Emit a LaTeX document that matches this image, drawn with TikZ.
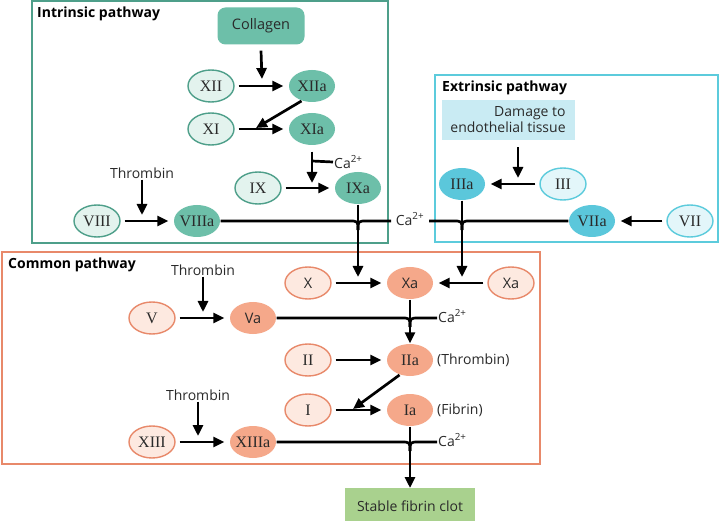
\documentclass[tikz,border=0pt]{standalone}
\usepackage{fontspec}
\setmainfont{Liberation Serif}
\setsansfont{Open Sans}
\usetikzlibrary{arrows.meta,shapes.geometric}
\definecolor{intB}{HTML}{4E9F8A}
\definecolor{intD}{HTML}{6DBFA9}
\definecolor{intL}{HTML}{E3F3EE}
\definecolor{extB}{HTML}{5CCBDC}
\definecolor{extD}{HTML}{5BC7DB}
\definecolor{extL}{HTML}{E3F6FA}
\definecolor{extF}{HTML}{C9EBF3}
\definecolor{comB}{HTML}{E8896A}
\definecolor{comD}{HTML}{F5A88A}
\definecolor{comL}{HTML}{FDE9E0}
\definecolor{clotG}{HTML}{A9D18E}
\definecolor{txt}{HTML}{2A2A2A}
\newcommand\flab[1]{\makebox[0pt]{#1}}
\tikzset{
  fac/.style={ellipse, minimum width=46pt, minimum height=32pt, inner sep=0pt, line width=1.4pt, text=txt, font=\fontsize{16}{16}\selectfont},
  facs/.style={fac, font=\sffamily\fontsize{14.5}{14.5}\selectfont},
  iL/.style={draw=intB, fill=intL},
  iD/.style={fill=intD},
  eL/.style={draw=extB, fill=extL},
  eD/.style={fill=extD},
  cL/.style={draw=comB, fill=comL},
  cD/.style={fill=comD},
  lab/.style={font=\sffamily\fontsize{14}{16}\selectfont, inner sep=1pt, text=txt},
  ttl/.style={font=\sffamily\bfseries\fontsize{14}{16}\selectfont, inner sep=0pt, anchor=west, text=black},
  ln/.style={line width=2.7pt},
  arr/.style={line width=2.7pt, -{Triangle[length=11pt,width=10pt]}},
  pbox/.style={line width=2pt}
}
\begin{document}
\begin{tikzpicture}[x=1pt,y=-1pt]
\useasboundingbox (0,0) rectangle (720,521);
% pathway boxes
\draw[pbox, draw=intB, fill=white] (32,1) rectangle (388,243);
\draw[pbox, draw=extB, fill=white] (435,75) rectangle (718,242);
\draw[pbox, draw=comB, fill=white] (2,252) rectangle (540,464);
\node[ttl] (tint) at (37,14) {Intrinsic pathway};
\node[ttl] (text) at (442,88) {Extrinsic pathway};
\node[ttl] (tcom) at (8,265) {Common pathway};

% intrinsic
\node[rectangle, rounded corners=8pt, fill=intD, minimum width=87pt, minimum height=37pt, text=txt, font=\sffamily\fontsize{14.5}{14.5}\selectfont] (col) at (261,26) {Collagen};
\node[fac,iL] (XII) at (211,86) {\flab{XII}};
\node[fac,iD] (XIIa) at (312,86) {\flab{XIIa}};
\node[fac,iL] (XI) at (211,129) {\flab{XI}};
\node[fac,iD] (XIa) at (312,129) {\flab{XIa}};
\node[fac,iL] (IX) at (258,188) {\flab{IX}};
\node[fac,iD] (IXa) at (358,188) {\flab{IXa}};
\node[fac,iL] (VIII) at (97,221) {\flab{VIII}};
\node[fac,iD] (VIIIa) at (197,221) {\flab{VIIIa}};
\node[lab] (thr1) at (142,173) {Thrombin};
\node[lab, anchor=west] (ca1) at (333,162) {Ca\textsuperscript{2+}};
\node[lab] (ca2) at (410,219) {Ca\textsuperscript{2+}};

\coordinate (t0) at (262,79);
\draw[arr] ([yshift=-6pt]col.south) -- (t0);
\draw[arr] ([xshift=4pt]XII.east) -- ([xshift=-5pt]XIIa.west);
\draw[arr] ([xshift=4pt]XI.east) -- ([xshift=-5pt]XIa.west);
\coordinate (t1) at (256,128);
\draw[arr] (XIIa.235) -- (t1);
\coordinate (t2) at (312,183);
\coordinate (k1) at (312,161);
\draw[ln] (ca1.west) -- (k1);
\draw[arr] ([yshift=-6pt]XIa.south) -- (t2);
\draw[arr] ([xshift=4pt]IX.east) -- ([xshift=-5pt]IXa.west);
\coordinate (t3) at (142,215);
\draw[arr] (thr1.south) -- (t3);
\draw[arr] ([xshift=4pt]VIII.east) -- ([xshift=-5pt]VIIIa.west);

% extrinsic
\node[fill=extF, align=right, text=txt, font=\sffamily\fontsize{14}{16}\selectfont, minimum width=133pt, minimum height=40pt, inner sep=2pt] (dmg) at (508,120) {Damage to\\endothelial tissue};
\node[fac,eD] (IIIa) at (462,184) {\flab{IIIa}};
\node[fac,eL] (III) at (563,184) {\flab{III}};
\node[fac,eD] (VIIa) at (592,221) {\flab{VIIa}};
\node[fac,eL] (VII) at (690,221) {\flab{VII}};
\coordinate (t4) at (518,178);
\draw[arr] ([yshift=-7pt]dmg.south -| t4) -- (t4);
\draw[arr] ([xshift=-4pt]III.west) -- ([xshift=5pt]IIIa.east);
\draw[arr] ([xshift=-4pt]VII.west) -- ([xshift=5pt]VIIa.east);

% junction of intrinsic and extrinsic lines
\coordinate (j1) at (358,230);
\coordinate (j2) at (462,230);
\coordinate (c2w) at (391,221);
\coordinate (c2e) at (429,221);
\draw[ln] (VIIIa.east) -- (349,221) .. controls (358,221) .. (j1);
\draw[ln] (c2w) -- (367,221) .. controls (358,221) .. (j1);
\draw[ln] (VIIa.west) -- (471,221) .. controls (462,221) .. (j2);
\draw[ln] (c2e) -- (453,221) .. controls (462,221) .. (j2);
\coordinate (t5) at (358,277);
\coordinate (t6) at (462,277);
\draw[arr] (IXa.south) -- (t5);
\draw[arr] (IIIa.south) -- (t6);

% common
\node[facs,cL] (X) at (308,283) {\flab{X}};
\node[facs,cD] (Xa) at (410,283) {\flab{Xa}};
\node[facs,cL] (Xb) at (511,283) {\flab{Xa}};
\node[fac,cL] (V) at (152,318) {\flab{V}};
\node[facs,cD] (Va) at (253,318) {\flab{Va}};
\node[fac,cL] (II) at (308,360) {\flab{II}};
\node[fac,cD] (IIa) at (410,360) {\flab{IIa}};
\node[fac,cL] (I) at (308,410) {\flab{I}};
\node[fac,cD] (Ia) at (410,410) {\flab{Ia}};
\node[fac,cL] (XIII) at (152,442) {\flab{XIII}};
\node[fac,cD] (XIIIa) at (253,442) {\flab{XIIIa}};
\node[lab] (thr2) at (203,270) {Thrombin};
\node[lab] (thr3) at (198,395) {Thrombin};
\node[lab, anchor=west] (ca3) at (437,316) {Ca\textsuperscript{2+}};
\node[lab, anchor=west] (ca4) at (437,440) {Ca\textsuperscript{2+}};
\node[lab, anchor=west] (thrl) at (436,360) {(Thrombin)};
\node[lab, anchor=west] (fibl) at (436,410) {(Fibrin)};
\node[fill=clotG, anchor=north, minimum width=130pt, minimum height=38pt, text depth=0pt, text=txt, font=\sffamily\fontsize{14}{16}\selectfont] (clot) at (410,488) {\raisebox{2pt}{Stable fibrin clot}};

\draw[arr] ([xshift=4pt]X.east) -- ([xshift=-5pt]Xa.west);
\draw[arr] ([xshift=-4pt]Xb.west) -- ([xshift=5pt]Xa.east);
\draw[arr] ([xshift=4pt]V.east) -- ([xshift=-5pt]Va.west);
\coordinate (t7) at (203,312);
\draw[arr] (thr2.south) -- (t7);
\draw[arr] (Xa.south) -- (IIa.north);
\coordinate (c3w) at (437,318);
\draw[ln] (Va.east) -- (401,318) .. controls (410,318) .. (410,327);
\draw[ln] (c3w) -- (419,318) .. controls (410,318) .. (410,327);
\draw[arr] ([xshift=4pt]II.east) -- ([xshift=-5pt]IIa.west);
\draw[arr] ([xshift=4pt]I.east) -- ([xshift=-5pt]Ia.west);
\coordinate (t8) at (353,409);
\draw[arr] (IIa.235) -- (t8);
\coordinate (t9) at (198,436);
\draw[arr] (thr3.south) -- (t9);
\draw[arr] ([xshift=4pt]XIII.east) -- ([xshift=-5pt]XIIIa.west);
\coordinate (c4w) at (437,442);
\draw[ln] (XIIIa.east) -- (401,442) .. controls (410,442) .. (410,451);
\draw[ln] (c4w) -- (419,442) .. controls (410,442) .. (410,451);
\draw[arr] (Ia.south) -- (clot.north);
\end{tikzpicture}
\end{document}
